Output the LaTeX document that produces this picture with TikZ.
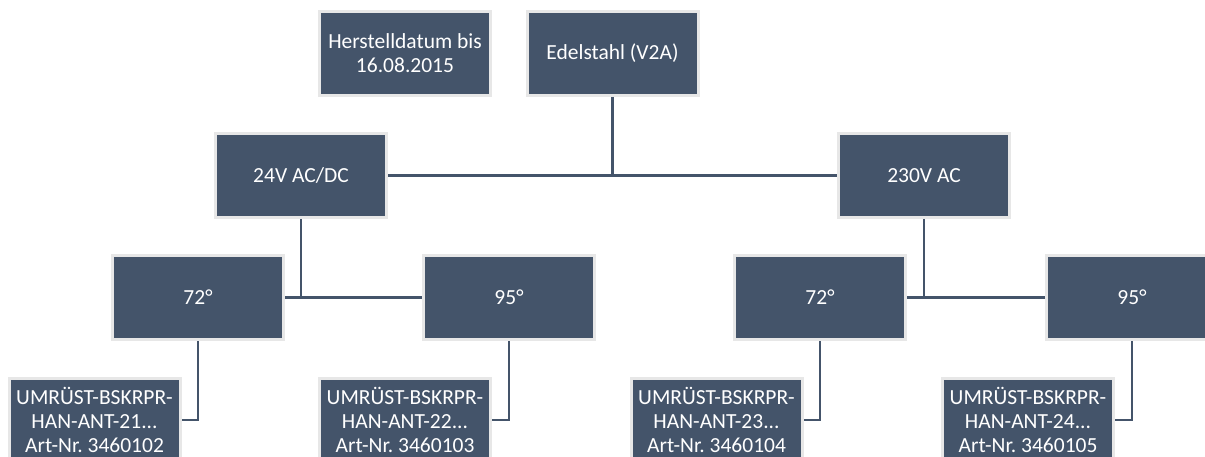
\documentclass[tikz,border=0pt]{standalone}
\usepackage{fontspec}
\setmainfont{Carlito}
\frenchspacing
\definecolor{boxfill}{HTML}{44546A}
\definecolor{boxedge}{HTML}{E7E7E7}
\begin{document}
\begin{tikzpicture}[x=1pt,y=-1pt,
  box/.style={rectangle, fill=boxfill, draw=boxedge, line width=3pt,
    minimum width=171pt, minimum height=84pt, inner sep=0pt,
    text=white, align=center, font=\fontsize{21.5}{23.8}\selectfont},
  conn/.style={draw=boxfill, line width=2.4pt}]
\useasboundingbox (0,0) rectangle (1205,457);
\begin{scope}
\clip (0,0) rectangle (1205,457);
\node[box] (her) at (405,53.5) {Herstelldatum bis\\16.08.2015};
\node[box] (edel) at (612.5,53.5) {Edelstahl (V2A)};
\node[box] (v24) at (301,175.5) {24V AC/DC};
\node[box] (v230) at (924,175.5) {230V AC};
\node[box] (l72) at (198,297.5) {72°};
\node[box] (l95) at (509,297.5) {95°};
\node[box] (r72) at (820,297.5) {72°};
\node[box] (r95) at (1132,297.5) {95°};
\node[box] (b1) at (94.5,420) {UMRÜST-BSKRPR-\\HAN-ANT-21...\\Art-Nr. 3460102};
\node[box] (b2) at (405,420) {UMRÜST-BSKRPR-\\HAN-ANT-22...\\Art-Nr. 3460103};
\node[box] (b3) at (716.5,420) {UMRÜST-BSKRPR-\\HAN-ANT-23...\\Art-Nr. 3460104};
\node[box] (b4) at (1028,420) {UMRÜST-BSKRPR-\\HAN-ANT-24...\\Art-Nr. 3460105};
\path[conn] (v24.east) -- (v230.west);
\path[conn] (edel.south) -- (edel.south |- v24.east);
\path[conn] (l72.east) -- (l95.west);
\path[conn] (v24.south) -- (v24.south |- l72.east);
\path[conn] (r72.east) -- (r95.west);
\path[conn] (v230.south) -- (v230.south |- r72.east);
\path[conn] (l72.south) |- (b1.east);
\path[conn] (l95.south) |- (b2.east);
\path[conn] (r72.south) |- (b3.east);
\path[conn] (r95.south) |- (b4.east);
\end{scope}
\end{tikzpicture}
\end{document}
